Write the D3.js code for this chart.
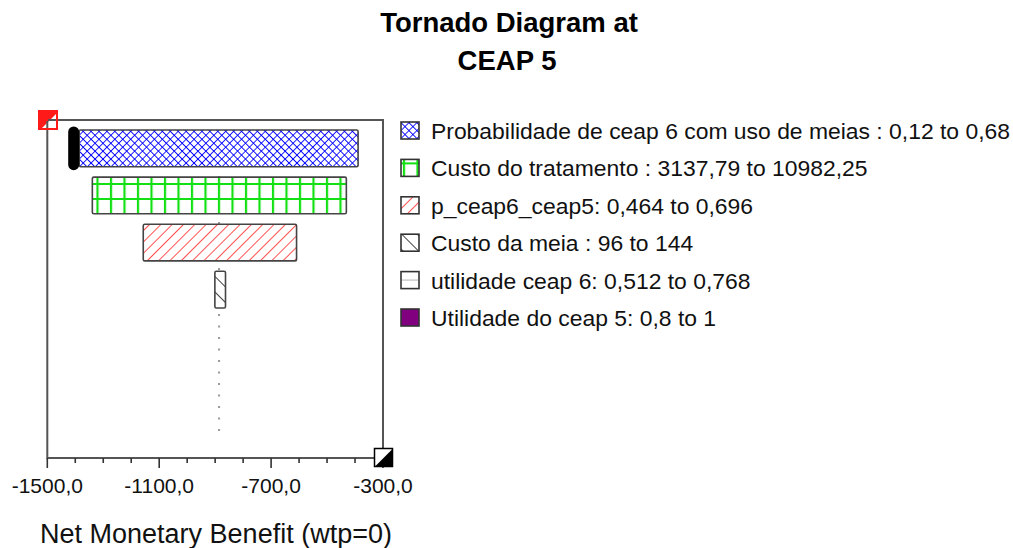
<!DOCTYPE html>
<html>
<head>
<meta charset="utf-8">
<script src="https://cdn.jsdelivr.net/npm/d3@7"></script>
<style>
  html, body { margin: 0; padding: 0; background: #fff; }
  svg { display: block; font-family: "Liberation Sans", Arial, sans-serif; }
</style>
</head>
<body>
<svg id="chart" width="1013" height="548"></svg>
<script>
// Tornado diagram: one-way sensitivity of Net Monetary Benefit (wtp=0) at CEAP 5

const variables = [
  "Probabilidade de ceap 6 com uso de meias",
  "Custo do tratamento",
  "p_ceap6_ceap5",
  "Custo da meia",
  "utilidade ceap 6",
  "Utilidade do ceap 5"
];
const rangeLabels = [
  " : 0,12 to 0,68",
  " : 3137,79 to 10982,25",
  ": 0,464 to 0,696",
  " : 96 to 144",
  ": 0,512 to 0,768",
  ": 0,8 to 1"
];
// NMB at the low / high end of each variable's range
const lowNMB  = [-1386, -1339, -1157, -901, -886, -886];
const highNMB = [-389, -431, -609, -863, -886, -886];
const baseNMB = -886;
const xTicks = [-1500, -1100, -700, -300];
const xMinorTicks = d3.range(-1500, -299, 100);

const svg = d3.select("#chart");
const frame = { left: 47.3, right: 383, top: 120, bottom: 458 };

const x = d3.scaleLinear().domain([-1500, -300]).range([frame.left, frame.right]);
const y = d3.scaleBand().domain(variables)
  .range([124.8, 124.8 + 6 * 47.1])
  .paddingInner(0.22).paddingOuter(0.11);

// fill patterns
const defs = svg.append("defs");
function hatch(id, size, angle, paths, color, width) {
  const p = defs.append("pattern").attr("id", id)
    .attr("patternUnits", "userSpaceOnUse")
    .attr("width", size[0]).attr("height", size[1])
    .attr("patternTransform", angle ? `rotate(${angle})` : null);
  p.append("rect").attr("width", size[0]).attr("height", size[1]).attr("fill", "#fff");
  p.append("path").attr("d", paths).attr("stroke", color).attr("stroke-width", width).attr("fill", "none");
}
hatch("pat0", [5.6, 5.6], 45, "M0,0 H5.6 M0,0 V5.6", "#0000ff", 1.7);
hatch("pat1", [13.5, 15], 0, "M3,0 V15 M0,4 H13.5", "#12e012", 2.2);
hatch("pat2", [8, 8], 45, "M0,0 V8", "#ff3c3c", 1.8);
hatch("pat3", [11, 11], -45, "M0,0 V11", "#111", 1.6);
const fills = ["url(#pat0)", "url(#pat1)", "url(#pat2)", "url(#pat3)", "#fff", "#800080"];

// frame
svg.append("rect")
  .attr("x", frame.left).attr("y", frame.top)
  .attr("width", frame.right - frame.left).attr("height", frame.bottom - frame.top)
  .attr("fill", "none").attr("stroke", "#555").attr("stroke-width", 2);

// base value line
svg.append("line")
  .attr("x1", x(baseNMB)).attr("x2", x(baseNMB))
  .attr("y1", y(variables[0])).attr("y2", 440)
  .attr("stroke", "#999").attr("stroke-width", 2).attr("stroke-dasharray", "2,9.5");

// bars
const bars = variables.map((v, i) => ({ v, i, lo: Math.min(lowNMB[i], highNMB[i]), hi: Math.max(lowNMB[i], highNMB[i]) }));
svg.append("g").selectAll("rect").data(bars.filter(d => d.hi > d.lo)).join("rect")
  .attr("x", d => x(d.lo)).attr("y", d => y(d.v))
  .attr("width", d => x(d.hi) - x(d.lo)).attr("height", y.bandwidth())
  .attr("fill", d => fills[d.i]).attr("stroke", "#444").attr("stroke-width", 1.6).attr("rx", 1.5);

// selection grip on the widest bar
svg.append("rect")
  .attr("x", x(lowNMB[0]) - 11).attr("y", y(variables[0]) - 3.5)
  .attr("width", 11).attr("height", y.bandwidth() + 7)
  .attr("rx", 5.5).attr("fill", "#000");

// x axis ticks
const axisG = svg.append("g");
axisG.selectAll("line.minor").data(xMinorTicks).join("line")
  .attr("x1", d => x(d)).attr("x2", d => x(d))
  .attr("y1", frame.bottom).attr("y2", d => xTicks.includes(d) ? frame.bottom + 10 : frame.bottom + 5)
  .attr("stroke", "#333").attr("stroke-width", 1.6);
axisG.selectAll("text").data(xTicks).join("text")
  .attr("x", d => x(d)).attr("y", 493)
  .attr("text-anchor", "middle").attr("font-size", 21).attr("fill", "#111")
  .text(d => d.toFixed(1).replace(".", ","));

// corner handles
svg.append("rect").attr("x", 38.5).attr("y", 110.5).attr("width", 19).attr("height", 19)
  .attr("fill", "#ff1a1a").attr("stroke", "#ff1a1a").attr("stroke-width", 1);
svg.append("path").attr("d", "M56,114 L56,128 L42,128 Z").attr("fill", "#fff");
svg.append("path").attr("d", `M${frame.left},121 V128 M48,${frame.top} H56`).attr("stroke", "#555").attr("stroke-width", 2);

svg.append("rect").attr("x", 374.5).attr("y", 448.5).attr("width", 18).attr("height", 18)
  .attr("fill", "#fff").attr("stroke", "#000").attr("stroke-width", 1.5);
svg.append("path").attr("d", "M392.5,449 L392.5,466.5 L375,466.5 Z").attr("fill", "#000");

// titles
svg.append("text").attr("x", 509).attr("y", 32).attr("text-anchor", "middle")
  .attr("font-size", 27.5).attr("font-weight", "bold").attr("fill", "#000").text("Tornado Diagram at");
svg.append("text").attr("x", 507).attr("y", 70).attr("text-anchor", "middle")
  .attr("font-size", 27.5).attr("font-weight", "bold").attr("fill", "#000").text("CEAP 5");
svg.append("text").attr("x", 216).attr("y", 543).attr("text-anchor", "middle")
  .attr("font-size", 27).attr("fill", "#111").text("Net Monetary Benefit (wtp=0)");

// legend
const legend = svg.append("g");
const rows = legend.selectAll("g").data(variables).join("g")
  .attr("transform", (d, i) => `translate(401, ${122 + i * 37.4})`);
rows.append("rect").attr("width", 18).attr("height", 17)
  .attr("fill", (d, i) => fills[i]).attr("stroke", "#333").attr("stroke-width", 1.6);
rows.filter((d, i) => i === 4).append("line")
  .attr("x1", 1).attr("x2", 17).attr("y1", 8.5).attr("y2", 8.5).attr("stroke", "#ccc").attr("stroke-width", 1.5);
rows.append("text").attr("x", 30).attr("y", 17)
  .attr("font-size", 22.9).attr("fill", "#111")
  .text((d, i) => d + rangeLabels[i]);
</script>
</body>
</html>
